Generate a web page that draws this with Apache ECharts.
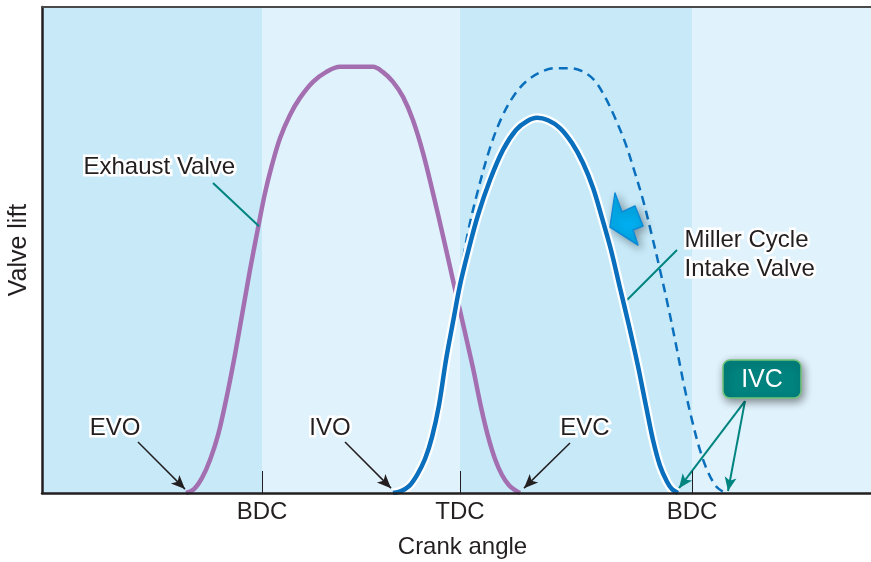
<!DOCTYPE html>
<html>
<head>
<meta charset="utf-8">
<script src="https://cdn.jsdelivr.net/npm/echarts@6/dist/echarts.min.js"></script>
<style>
  html, body { margin: 0; padding: 0; background: #fff; }
  #main { width: 871px; height: 562px; }
</style>
</head>
<body>
<div id="main"></div>
<script>
  // crank position (arbitrary units along the axis) and valve lift (0..10)
  var crankMarks = [220, 418, 650]
  var crankNames = ['BDC', 'TDC', 'BDC']
  var bandEdges = [0, 220, 418, 650, 829]

  var exhaustValve = [
    [144, 0], [152, 0.08], [160, 0.31], [168, 0.68], [176, 1.19], [184, 1.91], [192, 2.74],
    [200, 3.66], [208, 4.59], [216, 5.45], [223, 6.17], [230, 6.75], [238, 7.3], [248, 7.78],
    [258, 8.13], [271, 8.46], [284, 8.66], [298, 8.77], [331, 8.77], [341, 8.66], [351, 8.46],
    [361, 8.15], [371, 7.67], [381, 7.0], [391, 6.17], [401, 5.29], [411, 4.38], [421, 3.48],
    [431, 2.57], [439, 1.77], [446, 1.17], [453, 0.7], [460, 0.37], [467, 0.16], [473, 0.06],
    [478, 0]
  ]
  var millerIntake = [
    [351, 0], [359, 0.04], [367, 0.14], [375, 0.37], [383, 0.7], [390, 1.15], [397, 1.81],
    [404, 2.74], [411, 3.52], [418, 4.28], [426, 4.96], [436, 5.72], [448, 6.44], [461, 7.06],
    [474, 7.47], [485, 7.65], [495, 7.72], [506, 7.67], [518, 7.51], [530, 7.2], [541, 6.79],
    [551, 6.28], [560, 5.66], [569, 5.0], [578, 4.22], [587, 3.44], [596, 2.61], [604, 1.79],
    [611, 1.09], [618, 0.56], [625, 0.23], [630, 0.08], [636, 0]
  ]
  var conventionalIntake = [
    [351, 0], [359, 0.04], [367, 0.14], [375, 0.37], [383, 0.7], [390, 1.15], [397, 1.81],
    [404, 2.74], [411, 3.6], [418, 4.42], [426, 5.37], [436, 6.23], [448, 7.1], [460, 7.74],
    [473, 8.21], [486, 8.5], [501, 8.68], [513, 8.74], [528, 8.74], [540, 8.68], [552, 8.5],
    [563, 8.15], [573, 7.72], [583, 7.22], [592, 6.65], [601, 6.03], [610, 5.29], [618, 4.59],
    [626, 3.85], [634, 3.05], [642, 2.22], [650, 1.5], [658, 0.88], [666, 0.43], [674, 0.14],
    [680, 0.04], [685, 0]
  ]

  // annotation arrows [from, to]
  var blackArrows = [
    [[96, 1.05], [143, 0.08]],
    [[303, 1.05], [349, 0.1]],
    [[528, 1.03], [482, 0.1]]
  ]
  var ivcArrows = [
    [[703, 1.89], [637, 0.1]],
    [[703, 1.89], [686, 0.04]]
  ]
  var leaders = [
    [[171, 6.38], [217, 5.49]],
    [[635, 5.0], [580, 3.87]]
  ]

  var FONT = '"Liberation Sans", Arial, Helvetica, sans-serif'
  var TXT = '#231f20'
  var DARK = '#c7e9f8', LIGHT = '#e0f2fc'

  function pairs(list) {
    return list.map(function (p) { return [{ coord: p[0] }, { coord: p[1] }] })
  }

  var bands = []
  for (var i = 0; i < bandEdges.length - 1; i++) {
    bands.push([{ xAxis: bandEdges[i], itemStyle: { color: i % 2 ? LIGHT : DARK } }, { xAxis: bandEdges[i + 1] }])
  }

  var curve = { type: 'line', smooth: 0.35, symbol: 'none' }

  var chart = echarts.init(document.getElementById('main'))
  var option = {
    animation: false,
    grid: { left: 42, right: 0, top: 7, bottom: 69, outerBoundsMode: 'none' },
    xAxis: [
      {
        type: 'value', min: 0, max: 829, z: 10,
        name: 'Crank angle', nameLocation: 'middle', nameGap: 42,
        nameTextStyle: { fontFamily: FONT, fontSize: 24, color: TXT, padding: [0, 0, 0, 12] },
        axisLine: { lineStyle: { color: '#231f20', width: 2.5 } },
        axisTick: { show: true, inside: true, length: 22, customValues: crankMarks, lineStyle: { color: '#231f20', width: 1 } },
        axisLabel: {
          customValues: crankMarks, margin: 7, fontFamily: FONT, fontSize: 24, color: TXT,
          formatter: function (v) { return crankNames[crankMarks.indexOf(v)] || '' }
        },
        splitLine: { show: false }
      },
      {
        type: 'value', min: 0, max: 829, position: 'top', z: 10,
        axisLine: { show: true, lineStyle: { color: '#4a4a4a', width: 2 } },
        axisTick: { show: false }, axisLabel: { show: false }, splitLine: { show: false }
      }
    ],
    yAxis: {
      type: 'value', min: 0, max: 10, z: 10,
      name: 'Valve lift', nameLocation: 'middle', nameGap: 10, nameRotate: 90,
      nameTextStyle: { fontFamily: FONT, fontSize: 25, color: TXT },
      axisLine: { show: true, lineStyle: { color: '#231f20', width: 2.5 } },
      axisTick: { show: false }, axisLabel: { show: false }, splitLine: { show: false }
    },
    series: [
      Object.assign({}, curve, {
        name: 'Intake (conventional)', data: conventionalIntake, z: 3,
        lineStyle: { color: '#0a6fbc', width: 2.5, type: [9, 6] },
        markArea: { silent: true, data: bands }
      }),
      Object.assign({}, curve, {
        name: 'Exhaust Valve', data: exhaustValve, z: 4,
        lineStyle: { color: '#a46fb1', width: 4.5 }
      }),
      Object.assign({}, curve, {
        name: 'halo', data: millerIntake, z: 5,
        lineStyle: { color: '#ffffff', width: 9 }
      }),
      Object.assign({}, curve, {
        name: 'Miller Cycle Intake Valve', data: millerIntake, z: 6,
        lineStyle: { color: '#0a6fbc', width: 4.5 }
      }),
      {
        name: 'notes', type: 'line', data: [], z: 7,
        markLine: {
          silent: true, animation: false,
          symbol: ['none', 'arrow'], symbolSize: [9, 14],
          label: { show: false },
          data: pairs(blackArrows).map(function (d) {
            d[0].lineStyle = { color: '#231f20', width: 1.5, type: 'solid' }
            return d
          }).concat(pairs(ivcArrows).map(function (d) {
            d[0].lineStyle = { color: '#00847f', width: 2, type: 'solid' }
            return d
          })).concat(pairs(leaders).map(function (d) {
            d[0].lineStyle = { color: '#00847f', width: 2, type: 'solid' }
            d[0].symbol = 'none'; d[1].symbol = 'none'
            return d
          }))
        }
      }
    ],
    graphic: [
      { type: 'text', left: 81, top: 153, z: 10, style: { text: 'Exhaust Valve', font: '24px ' + FONT, fill: TXT, stroke: '#fff', lineWidth: 5 } },
      { type: 'text', left: 682, top: 226, z: 10, style: { text: 'Miller Cycle\nIntake Valve', font: '24px ' + FONT, fill: TXT, lineHeight: 29, stroke: '#fff', lineWidth: 5 } },
      { type: 'text', x: 115, y: 428, z: 10, style: { text: 'EVO', font: '24px ' + FONT, fill: TXT, align: 'center', verticalAlign: 'middle', stroke: '#fff', lineWidth: 5 } },
      { type: 'text', x: 330, y: 428, z: 10, style: { text: 'IVO', font: '24px ' + FONT, fill: TXT, align: 'center', verticalAlign: 'middle', stroke: '#fff', lineWidth: 5 } },
      { type: 'text', x: 585, y: 428, z: 10, style: { text: 'EVC', font: '24px ' + FONT, fill: TXT, align: 'center', verticalAlign: 'middle', stroke: '#fff', lineWidth: 5 } },
      {
        type: 'rect', z: 10, shape: { x: 723, y: 360, width: 78, height: 38, r: 7 },
        style: { fill: '#00837f', stroke: '#72c37a', lineWidth: 1.5, shadowBlur: 8, shadowOffsetX: 2, shadowOffsetY: 3, shadowColor: 'rgba(0,0,0,0.45)' }
      },
      { type: 'text', x: 762, y: 380, z: 11, style: { text: 'IVC', font: '25px ' + FONT, fill: '#fff', align: 'center', verticalAlign: 'middle' } },
      {
        type: 'polygon', z: 10,
        shape: { points: [[610, 227], [615, 193], [622, 212], [635, 206], [643, 226], [633, 230], [638, 245]] },
        style: { fill: '#00aeef', stroke: '#0d8bd6', lineWidth: 1.5, lineJoin: 'round', shadowBlur: 8, shadowOffsetX: 3, shadowOffsetY: 3, shadowColor: 'rgba(0,0,0,0.35)' }
      }
    ]
  }
  chart.setOption(option)
</script>
</body>
</html>
